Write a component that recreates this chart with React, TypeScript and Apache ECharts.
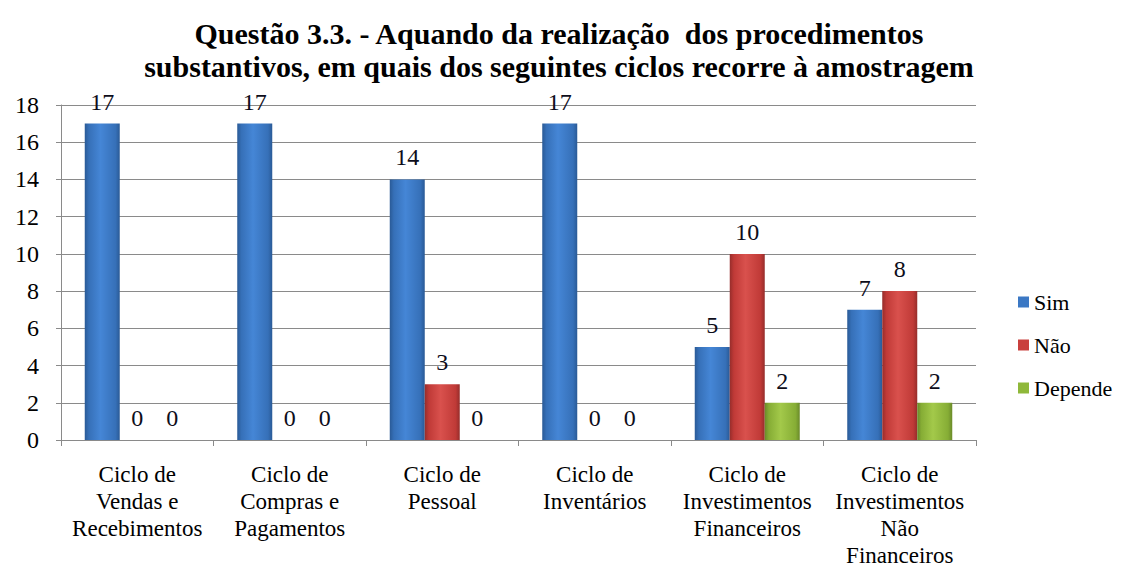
import React, { useEffect, useRef } from "react";
import * as echarts from "echarts";

const categories = [
  "Ciclo de\nVendas e\nRecebimentos",
  "Ciclo de\nCompras e\nPagamentos",
  "Ciclo de\nPessoal",
  "Ciclo de\nInventários",
  "Ciclo de\nInvestimentos\nFinanceiros",
  "Ciclo de\nInvestimentos\nNão\nFinanceiros",
];
const seriesNames = ["Sim", "Não", "Depende"];
const sim = [17, 17, 14, 17, 5, 7];
const nao = [0, 0, 3, 0, 10, 8];
const depende = [0, 0, 0, 0, 2, 2];
const titleText =
  "Questão 3.3. - Aquando da realização  dos procedimentos\nsubstantivos, em quais dos seguintes ciclos recorre à amostragem";

const FONT = "Liberation Serif";

function grad(edge: string, mid: string, light: string) {
  return new echarts.graphic.LinearGradient(0, 0, 1, 0, [
    { offset: 0, color: edge },
    { offset: 0.12, color: mid },
    { offset: 0.45, color: light },
    { offset: 0.88, color: mid },
    { offset: 1, color: edge },
  ]);
}

export default function App() {
  const ref = useRef<HTMLDivElement>(null);
  useEffect(() => {
    if (!ref.current) return;
    const chart = echarts.init(ref.current, undefined, { renderer: "svg" });
    const label = {
      show: true,
      position: "top" as const,
      distance: 10,
      fontFamily: FONT,
      fontSize: 24,
      color: "#0d0d1a",
    };
    const mk = (name: string, data: number[], edge: string, mid: string, light: string) => ({
      name,
      type: "bar" as const,
      data,
      barWidth: 35,
      barGap: "0%",
      label,
      itemStyle: { color: grad(edge, mid, light) },
    });
    chart.setOption({
      animation: false,
      title: {
        text: titleText,
        left: 554,
        top: 12,
        textAlign: "center",
        textStyle: {
          fontFamily: FONT,
          fontSize: 30,
          fontWeight: "bold",
          color: "#000",
          lineHeight: 33,
        },
      },
      legend: {
        orient: "vertical",
        left: 1013,
        top: 286,
        itemWidth: 11,
        itemHeight: 11,
        itemGap: 21,
        icon: "rect",
        textStyle: { fontFamily: FONT, fontSize: 22, color: "#000" },
        data: [
          { name: seriesNames[0], itemStyle: { color: "#3b78c4" } },
          { name: seriesNames[1], itemStyle: { color: "#c9403d" } },
          { name: seriesNames[2], itemStyle: { color: "#8fb83a" } },
        ],
      },
      grid: { left: 61, right: 148, top: 105, bottom: 132, outerBoundsMode: "none", containLabel: false },
      xAxis: {
        type: "category",
        data: categories,
        axisLine: { show: true, lineStyle: { color: "#8a8a8a", width: 1 } },
        axisTick: { show: true, length: 6, lineStyle: { color: "#8a8a8a" } },
        axisLabel: {
          interval: 0,
          margin: 21,
          fontFamily: FONT,
          fontSize: 23,
          lineHeight: 27,
          color: "#000",
        },
      },
      yAxis: {
        type: "value",
        min: 0,
        max: 18,
        interval: 2,
        axisLine: { show: true, lineStyle: { color: "#8a8a8a" } },
        axisTick: { show: true, length: 5, lineStyle: { color: "#8a8a8a" } },
        axisLabel: { fontFamily: FONT, fontSize: 24, color: "#000", margin: 22 },
        splitLine: { lineStyle: { color: "#8a8a8a", width: 1 } },
      },
      series: [
        mk(seriesNames[0], sim, "#2a5a96", "#3670b8", "#4586d6"),
        mk(seriesNames[1], nao, "#962d2b", "#c03a37", "#d9514d"),
        mk(seriesNames[2], depende, "#6a8a2a", "#86ad35", "#a3c94a"),
      ],
    });
    return () => chart.dispose();
  }, []);
  return (
    <>
      <style>{"#root svg text { font-family: 'Liberation Serif', 'Times New Roman', serif !important; }"}</style>
      <div ref={ref} style={{ width: 1124, height: 572, margin: -8 }} />
    </>
  );
}
